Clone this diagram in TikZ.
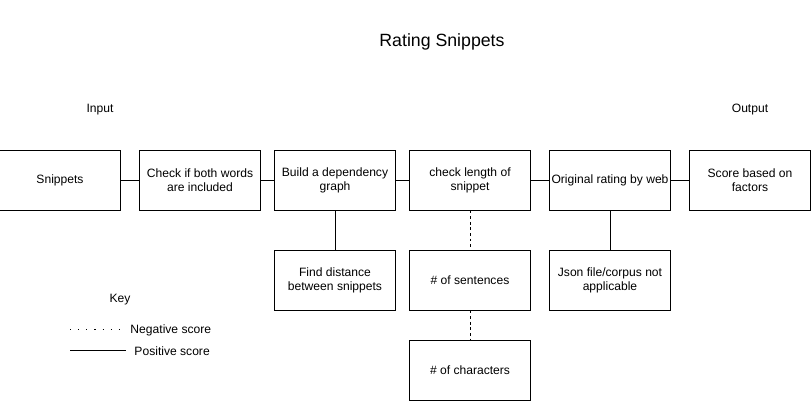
\documentclass[tikz,border=0pt]{standalone}
\usepackage{fontspec}
\setmainfont{Liberation Sans}
\begin{document}
\begin{tikzpicture}[x=0.025cm,y=-0.025cm,line width=0.7pt,
  font=\fontsize{8.6pt}{10pt}\selectfont,
  stepbox/.style={draw,minimum width=3cm,minimum height=1.5cm,align=center,inner sep=0pt},
  negline/.style={dash pattern=on 2pt off 2pt},
  keydots/.style={dash pattern=on 0.8pt off 5pt}]
\useasboundingbox (0,0) rectangle (811,401);
% Title and labels
\node (title) at (442,42) {\fontsize{12.6pt}{14pt}\selectfont Rating Snippets};
\node (input) at (100,110) {Input};
\node (output) at (750,110) {Output};

% Main row
\node[stepbox] (snip) at (60,180) {Snippets};
\node[stepbox] (both) at (200,180) {Check if both words\\are included};
\node[stepbox] (dep) at (335,180) {Build a dependency\\graph};
\node[stepbox] (len) at (470,180) {check length of\\snippet};
\node[stepbox] (orig) at (610,180) {Original rating by web};
\node[stepbox] (score) at (750,180) {Score based on\\factors};

% Second and third rows
\node[stepbox] (dist) at (335,280) {Find distance\\between snippets};
\node[stepbox] (sent) at (470,280) {\# of sentences};
\node[stepbox] (json) at (610,280) {Json file/corpus not\\applicable};
\node[stepbox] (chars) at (470,370) {\# of characters};

% Connectors
\draw (snip) -- (both);
\draw (both) -- (dep);
\draw (dep) -- (len);
\draw (len) -- (orig);
\draw (orig) -- (score);
\draw (dep) -- (dist);
\draw (orig) -- (json);
\draw[negline] (len) -- (sent);
\draw[negline] (sent) -- (chars);

% Key
\node (key) at (120,300) {Key};
\coordinate (nega) at (70,329);
\coordinate (negb) at (126,329);
\coordinate (posa) at (70,350);
\coordinate (posb) at (126,350);
\draw[keydots] (nega) -- (negb);
\draw (posa) -- (posb);
\node[anchor=west,inner sep=0pt] (neg) at (130,330) {Negative score};
\node[anchor=west,inner sep=0pt] (pos) at (134,351) {Positive score};
\end{tikzpicture}
\end{document}
